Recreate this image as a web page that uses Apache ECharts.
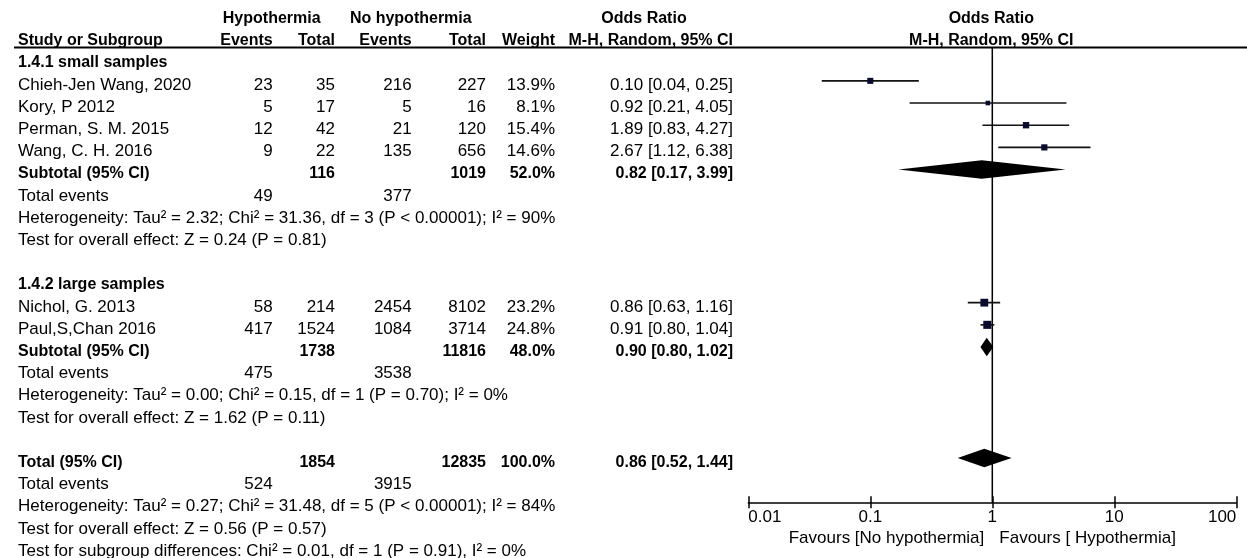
<!DOCTYPE html>
<html>
<head>
<meta charset="utf-8">
<script src="https://cdn.jsdelivr.net/npm/echarts@6/dist/echarts.min.js"></script>
<style>
html,body{margin:0;padding:0;background:#fff;}
#chart{width:1247px;height:558px;}
</style>
</head>
<body>
<div id="chart"></div>
<script>
// ---------------- DATA ----------------
const studyNames = ['Chieh-Jen Wang, 2020', 'Kory, P 2012', 'Perman, S. M. 2015', 'Wang, C. H. 2016', 'Nichol, G. 2013', 'Paul,S,Chan 2016'];
const studyRows = [3, 4, 5, 6, 13, 14];
const hypEvents = [23, 5, 12, 9, 58, 417];
const hypTotal = [35, 17, 42, 22, 214, 1524];
const noEvents = [216, 5, 21, 135, 2454, 1084];
const noTotal = [227, 16, 120, 656, 8102, 3714];
const weights = [13.9, 8.1, 15.4, 14.6, 23.2, 24.8];
const orEst = [0.10, 0.92, 1.89, 2.67, 0.86, 0.91];
const orLow = [0.04, 0.21, 0.83, 1.12, 0.63, 0.80];
const orHigh = [0.25, 4.05, 4.27, 6.38, 1.16, 1.04];

const pooledNames = ['Subtotal (95% CI)', 'Subtotal (95% CI)', 'Total (95% CI)'];
const pooledRows = [7, 15, 20];
const pooledHypTotal = [116, 1738, 1854];
const pooledNoTotal = [1019, 11816, 12835];
const pooledWeight = [52.0, 48.0, 100.0];
const pooledEst = [0.82, 0.90, 0.86];
const pooledLow = [0.17, 0.80, 0.52];
const pooledHigh = [3.99, 1.02, 1.44];

const totalEventRows = [8, 16, 21];
const totalEventsHyp = [49, 475, 524];
const totalEventsNo = [377, 3538, 3915];

const groupNames = ['1.4.1 small samples', '1.4.2 large samples'];
const groupRows = [2, 12];

const noteRows = [9, 10, 17, 18, 22, 23, 24];
const noteTexts = [
  'Heterogeneity: Tau\u00b2 = 2.32; Chi\u00b2 = 31.36, df = 3 (P < 0.00001); I\u00b2 = 90%',
  'Test for overall effect: Z = 0.24 (P = 0.81)',
  'Heterogeneity: Tau\u00b2 = 0.00; Chi\u00b2 = 0.15, df = 1 (P = 0.70); I\u00b2 = 0%',
  'Test for overall effect: Z = 1.62 (P = 0.11)',
  'Heterogeneity: Tau\u00b2 = 0.27; Chi\u00b2 = 31.48, df = 5 (P < 0.00001); I\u00b2 = 84%',
  'Test for overall effect: Z = 0.56 (P = 0.57)',
  'Test for subgroup differences: Chi\u00b2 = 0.01, df = 1 (P = 0.91), I\u00b2 = 0%'
];

const tickLabels = ['0.01', '0.1', '1', '10', '100'];
const favoursLeft = 'Favours [No hypothermia]';
const favoursRight = 'Favours [ Hypothermia]';

// ---------------- LAYOUT / STYLE ----------------
const FONT = '"Liberation Sans", Arial, sans-serif';
const FS = 17;
const FS_BOLD = 16;
const TEXT_DY = 4.4;
const cols = {
  study: { x: 18, align: 'left' },
  hypE: { x: 272.7, align: 'right' },
  hypT: { x: 335, align: 'right' },
  noE: { x: 411.7, align: 'right' },
  noT: { x: 486, align: 'right' },
  weight: { x: 555, align: 'right' },
  or: { x: 733, align: 'right' },
  hypHead: { x: 271.7, align: 'center' },
  noHead: { x: 410.8, align: 'center' },
  orHead: { x: 644, align: 'center' },
  plotHead: { plot: -1, align: 'center' },
  favL: { plot: -8, align: 'right' },
  favR: { plot: 7, align: 'left' }
};

function fmtOR(e, l, h) { return e.toFixed(2) + ' [' + l.toFixed(2) + ', ' + h.toFixed(2) + ']'; }

// ---------------- TABLE CELLS ----------------
const cells = [];
function cell(row, col, text, bold) { cells.push({ row, col, text: String(text), bold: !!bold }); }

cell(0, 'hypHead', 'Hypothermia', true);
cell(0, 'noHead', 'No hypothermia', true);
cell(0, 'orHead', 'Odds Ratio', true);
cell(0, 'plotHead', 'Odds Ratio', true);
cell(1, 'study', 'Study or Subgroup', true);
cell(1, 'hypE', 'Events', true);
cell(1, 'hypT', 'Total', true);
cell(1, 'noE', 'Events', true);
cell(1, 'noT', 'Total', true);
cell(1, 'weight', 'Weight', true);
cell(1, 'or', 'M-H, Random, 95% CI', true);
cell(1, 'plotHead', 'M-H, Random, 95% CI', true);

groupNames.forEach((g, i) => cell(groupRows[i], 'study', g, true));
studyNames.forEach((s, i) => {
  const r = studyRows[i];
  cell(r, 'study', s);
  cell(r, 'hypE', hypEvents[i]);
  cell(r, 'hypT', hypTotal[i]);
  cell(r, 'noE', noEvents[i]);
  cell(r, 'noT', noTotal[i]);
  cell(r, 'weight', weights[i].toFixed(1) + '%');
  cell(r, 'or', fmtOR(orEst[i], orLow[i], orHigh[i]));
});
pooledNames.forEach((s, i) => {
  const r = pooledRows[i];
  cell(r, 'study', s, true);
  cell(r, 'hypT', pooledHypTotal[i], true);
  cell(r, 'noT', pooledNoTotal[i], true);
  cell(r, 'weight', pooledWeight[i].toFixed(1) + '%', true);
  cell(r, 'or', fmtOR(pooledEst[i], pooledLow[i], pooledHigh[i]), true);
});
totalEventRows.forEach((r, i) => {
  cell(r, 'study', 'Total events');
  cell(r, 'hypE', totalEventsHyp[i]);
  cell(r, 'noE', totalEventsNo[i]);
});
noteRows.forEach((r, i) => cell(r, 'study', noteTexts[i]));
cell(23.43, 'favL', favoursLeft);
cell(23.43, 'favR', favoursRight);

// ---------------- CHART ----------------
const chart = echarts.init(document.getElementById('chart'), null, { renderer: 'canvas' });

const studyData = studyNames.map((s, i) => [orLow[i], orHigh[i], orEst[i], studyRows[i], weights[i]]);
const pooledData = pooledNames.map((s, i) => [pooledLow[i], pooledHigh[i], pooledEst[i], pooledRows[i]]);

const gridBox = { left: 748.3, right: 10.7, top: 14.3, bottom: 55.7, containLabel: false };

const option = {
  backgroundColor: '#ffffff',
  animation: false,
  grid: [Object.assign({}, gridBox), Object.assign({}, gridBox)],
  xAxis: [{
    type: 'log', logBase: 10, min: 0.01, max: 100, position: 'bottom', gridIndex: 0,
    axisLine: { show: true, onZero: false, lineStyle: { color: '#000', width: 1.5 } },
    axisTick: { show: true, length: 6, lineStyle: { color: '#000', width: 1.5 } },
    axisLabel: {
      show: true, margin: 7, color: '#000', fontSize: FS, fontFamily: FONT,
      alignMinLabel: 'left', alignMaxLabel: 'right',
      formatter: (v) => { const k = Math.round(Math.log10(v)) + 2; return tickLabels[k] !== undefined ? tickLabels[k] : ''; }
    },
    splitLine: { show: false }
  }, {
    type: 'log', logBase: 10, min: 0.01, max: 100, position: 'bottom', gridIndex: 1,
    axisLine: { show: false, onZero: false },
    axisTick: { show: true, inside: true, length: 6, lineStyle: { color: '#000', width: 1.5 } },
    axisLabel: { show: false },
    splitLine: { show: false }
  }],
  yAxis: [
    { type: 'value', min: 0, max: 22, inverse: true, show: false, gridIndex: 0 },
    { type: 'value', min: 0, max: 22, inverse: true, show: false, gridIndex: 1 }
  ],
  series: [
    { // null line at OR = 1
      type: 'line', xAxisIndex: 0, yAxisIndex: 0, data: [[1, 1.5], [1, 22]], symbol: 'none',
      lineStyle: { color: '#000', width: 1.5 }, silent: true, z: 1
    },
    { // header rule
      type: 'custom', xAxisIndex: 0, yAxisIndex: 0, data: [[1, 1.5]], clip: false, silent: true, z: 5,
      renderItem: (params, api) => {
        const y = api.coord([1, api.value(1)])[1];
        return { type: 'line', shape: { x1: 14, y1: y, x2: 1247, y2: y }, style: { stroke: '#000', lineWidth: 2 } };
      }
    },
    { // study CI lines and weight squares
      type: 'custom', xAxisIndex: 0, yAxisIndex: 0, data: studyData, clip: false, silent: true, z: 3,
      encode: { x: [0, 1, 2], y: 3 },
      renderItem: (params, api) => {
        const r = api.value(3);
        const a = api.coord([api.value(0), r]);
        const b = api.coord([api.value(1), r]);
        const c = api.coord([api.value(2), r]);
        const side = 1.62 * Math.sqrt(api.value(4));
        return {
          type: 'group', children: [
            { type: 'line', shape: { x1: a[0], y1: a[1], x2: b[0], y2: b[1] }, style: { stroke: '#111', lineWidth: 1.6 } },
            { type: 'rect', shape: { x: c[0] - side / 2, y: c[1] - side / 2, width: side, height: side }, style: { fill: '#0b0b2e' } }
          ]
        };
      }
    },
    { // pooled diamonds
      type: 'custom', xAxisIndex: 0, yAxisIndex: 0, data: pooledData, clip: false, silent: true, z: 3,
      encode: { x: [0, 1, 2], y: 3 },
      renderItem: (params, api) => {
        const r = api.value(3);
        const a = api.coord([api.value(0), r]);
        const b = api.coord([api.value(1), r]);
        const c = api.coord([api.value(2), r]);
        const h = 9.3;
        return {
          type: 'polygon',
          shape: { points: [[a[0], a[1]], [c[0], c[1] - h], [b[0], b[1]], [c[0], c[1] + h]] },
          style: { fill: '#000' }
        };
      }
    },
    { // table text
      type: 'custom', xAxisIndex: 0, yAxisIndex: 0, data: cells.map(c => [1, c.row]), clip: false, silent: true, z: 4,
      renderItem: (params, api) => {
        const c = cells[params.dataIndex];
        const p = api.coord([1, api.value(1)]);
        const col = cols[c.col];
        const x = (col.plot !== undefined) ? p[0] + col.plot : col.x;
        return {
          type: 'text',
          style: {
            text: c.text, x: x, y: p[1] + TEXT_DY, align: col.align, verticalAlign: 'middle',
            fontSize: c.bold ? FS_BOLD : FS, fontFamily: FONT, fontWeight: c.bold ? 'bold' : 'normal', fill: '#000'
          }
        };
      }
    }
  ]
};
chart.setOption(option);
</script>
</body>
</html>
